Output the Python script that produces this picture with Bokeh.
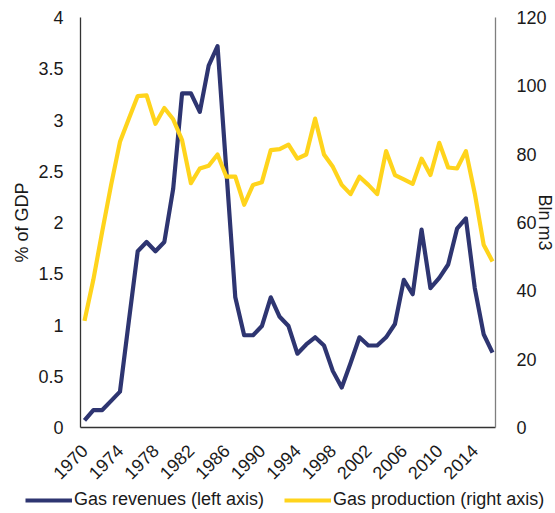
import math
from bokeh.plotting import figure
from bokeh.models import (Range1d, LinearAxis, FixedTicker, CustomJSTickFormatter,
                          Legend, LegendItem, ColumnDataSource)
from bokeh.embed import file_html
from bokeh.resources import INLINE

years = list(range(1970, 2017))
gas_revenues = [0.07, 0.17, 0.17, 0.26, 0.35, 1.04, 1.72, 1.81, 1.72, 1.81,
                2.33, 3.26, 3.26, 3.08, 3.53, 3.72, 2.5, 1.27, 0.90, 0.90,
                0.99, 1.27, 1.08, 0.99, 0.72, 0.81, 0.88, 0.80, 0.55, 0.39,
                0.63, 0.88, 0.80, 0.80, 0.88, 1.01, 1.44, 1.30, 1.93, 1.36,
                1.46, 1.59, 1.94, 2.04, 1.36, 0.91, 0.73]
gas_production = [31.2, 43.3, 57.4, 71.0, 83.6, 90.4, 97.0, 97.2, 88.9, 93.5,
                  90.2, 84.1, 71.5, 75.8, 76.6, 79.9, 73.4, 73.4, 65.2, 71.0,
                  71.8, 81.2, 81.5, 82.8, 78.7, 79.9, 90.4, 79.9, 76.3, 71.0,
                  68.3, 73.4, 71.0, 68.3, 80.9, 73.9, 72.6, 71.3, 78.7, 73.9,
                  83.3, 76.1, 75.8, 80.9, 68.5, 53.5, 48.6]
series_names = ["Gas revenues (left axis)", "Gas production (right axis)"]
x_ticks = list(range(1970, 2015, 4))
left_ticks = [0, 0.5, 1, 1.5, 2, 2.5, 3, 3.5, 4]
right_ticks = [0, 20, 40, 60, 80, 100, 120]

BLUE = "#2E3571"
YELLOW = "#FFD41C"
FONT = "Liberation Sans"
FS = "18px"
TXT = "#1a1a1a"

W, H = 553, 511
PX_PER_YEAR = 8.87
PX_PER_UNIT = 102.5
X0_PX, Y0_PX = 84, 427          # pixel position of (1970, 0) inside the canvas
x_lo = 1970 - X0_PX / PX_PER_YEAR
x_hi = 1970 + (W - X0_PX) / PX_PER_YEAR
y_hi = Y0_PX / PX_PER_UNIT
y_lo = -(H - Y0_PX) / PX_PER_UNIT
x_left_axis = 1970 - 4 / PX_PER_YEAR
x_right_axis = 1970 + 411 / PX_PER_YEAR

src = ColumnDataSource(dict(year=years, rev=gas_revenues, prod=gas_production))

p = figure(width=W, height=H, output_backend="svg", toolbar_location=None,
           x_range=Range1d(x_lo, x_hi), y_range=Range1d(y_lo, y_hi),
           min_border=0, outline_line_color=None, x_axis_location=None,
           y_axis_location=None)
p.extra_y_ranges = {"right": Range1d(y_lo * 30, y_hi * 30)}
p.grid.visible = False
p.background_fill_color = "white"
p.border_fill_color = "white"

r1 = p.line("year", "rev", source=src, line_color=BLUE, line_width=4.2, line_join="round")
r2 = p.line("year", "prod", source=src, y_range_name="right", line_color=YELLOW,
            line_width=4.2, line_join="round")

xa = LinearAxis(ticker=FixedTicker(ticks=x_ticks), fixed_location=0,
                bounds=(x_left_axis, x_right_axis))
xa.major_label_orientation = math.pi / 4
xa.axis_line_color = "#333333"
p.add_layout(xa, "below")

ya = LinearAxis(ticker=FixedTicker(ticks=left_ticks), fixed_location=x_left_axis,
                bounds=(0, 4), axis_label="% of GDP",
                formatter=CustomJSTickFormatter(code="return String(tick);"))
ya.axis_line_color = "#333333"
p.add_layout(ya, "left")

ra = LinearAxis(y_range_name="right", ticker=FixedTicker(ticks=right_ticks),
                fixed_location=x_right_axis, bounds=(0, 120), axis_label="Bln m3")
ra.axis_line_color = "#7f7f7f"
p.add_layout(ra, "right")

for ax in [xa, ya, ra]:
    ax.axis_line_width = 1.3
    ax.major_tick_line_color = None
    ax.minor_tick_line_color = None
    ax.major_label_text_font = FONT
    ax.major_label_text_font_size = FS
    ax.major_label_text_color = TXT
    ax.axis_label_text_font = FONT
    ax.axis_label_text_font_size = FS
    ax.axis_label_text_font_style = "normal"
    ax.axis_label_text_color = TXT

xa.major_label_standoff = 14
ya.major_label_standoff = 11
ra.major_label_standoff = 15
ya.axis_label_standoff = 3
ra.axis_label_standoff = -15

legend = Legend(items=[LegendItem(label=series_names[0], renderers=[r1]),
                       LegendItem(label=series_names[1], renderers=[r2])],
                orientation="horizontal", location=(25, 1),
                label_text_font=FONT, label_text_font_size=FS, label_text_color=TXT,
                glyph_width=47, glyph_height=18, label_standoff=2, spacing=20,
                padding=0, margin=0, border_line_color=None,
                background_fill_alpha=0)
p.add_layout(legend, "center")

open("out.html", "w").write(file_html(p, INLINE))
